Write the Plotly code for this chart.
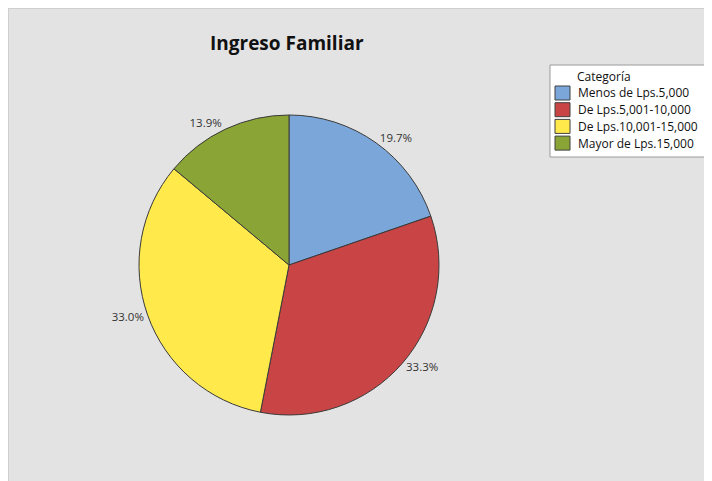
import plotly.graph_objects as go

categories = ["Menos de Lps.5,000", "De Lps.5,001-10,000", "De Lps.10,001-15,000", "Mayor de Lps.15,000"]
values = [19.7, 33.3, 33.0, 13.9]
pct_labels = ["19.7%", "33.3%", "33.0%", "13.9%"]
colors = ["#7BA6DA", "#C94444", "#FFE94B", "#8AA536"]
legend_title = "Categoría"
chart_title = "Ingreso Familiar"

OFF = 8  # page body margin shifts the figure
W, H = 730, 490


def px(x):
    return (x - OFF) / W


def py(y):
    return 1 - (y - OFF) / H


fig = go.Figure()
fig.add_trace(go.Pie(
    labels=categories, values=values, text=pct_labels,
    textinfo="text", textposition="outside",
    sort=False, direction="clockwise", rotation=0,
    marker=dict(colors=colors, line=dict(color="#3a3a3a", width=1)),
    textfont=dict(size=11.5, color="#333333"),
    domain=dict(x=[px(139), px(439)], y=[py(415), py(115)]),
    hoverinfo="label+text",
    showlegend=False,
))

shapes = [dict(type="line", xref="paper", yref="paper", x0=0, x1=1, y0=1, y1=1,
               line=dict(color="#CFCFCF", width=2), layer="below"),
          dict(type="line", xref="paper", yref="paper", x0=0, x1=0, y0=0, y1=1,
               line=dict(color="#CFCFCF", width=2), layer="below"),
          dict(type="rect", xref="paper", yref="paper",
               x0=px(550), x1=px(706), y0=py(157), y1=py(65),
               fillcolor="white", line=dict(color="#9a9a9a", width=1), layer="above")]
annotations = [dict(text="<b>" + chart_title + "</b>", x=px(287), y=py(43), xref="paper", yref="paper",
                    showarrow=False, font=dict(size=19, color="#111111"),
                    xanchor="center", yanchor="middle"),
               dict(text=legend_title, x=px(575), y=py(76), xref="paper", yref="paper",
                    showarrow=False, font=dict(size=12, color="#111111"),
                    xanchor="left", yanchor="middle")]
row_y0 = 93
row_step = 16.7
for i, (cat, col) in enumerate(zip(categories, colors)):
    yc = row_y0 + i * row_step
    shapes.append(dict(type="rect", xref="paper", yref="paper",
                       x0=px(555), x1=px(570), y0=py(yc + 7), y1=py(yc - 7),
                       fillcolor=col, line=dict(color="#404040", width=1), layer="above"))
    annotations.append(dict(text=cat, x=px(576), y=py(yc), xref="paper", yref="paper",
                            showarrow=False, font=dict(size=12, color="#111111"),
                            xanchor="left", yanchor="middle"))

fig.update_layout(
    width=W, height=H,
    margin=dict(l=0, r=0, t=0, b=0),
    paper_bgcolor="#E3E3E3",
    font=dict(family="Open Sans, Noto Sans, sans-serif", color="#222222"),
    shapes=shapes,
    annotations=annotations,
    showlegend=False,
)
fig.write_html("out.html", post_script="document.documentElement.style.overflow='hidden';document.body.style.overflow='hidden';")
